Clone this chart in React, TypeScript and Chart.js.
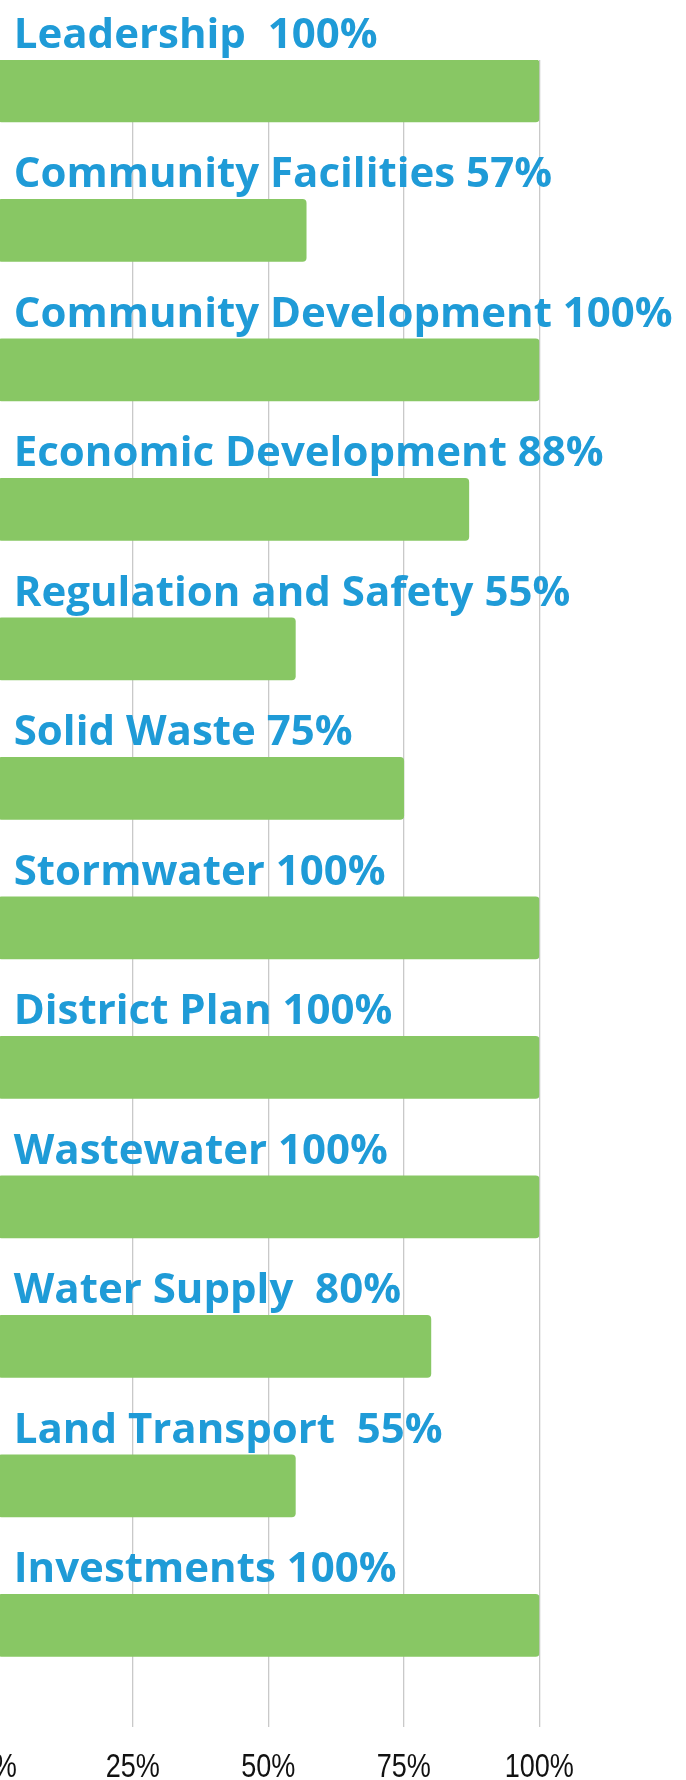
import React, { useEffect, useRef } from "react";
import { Chart, registerables } from "chart.js";

Chart.register(...registerables);

const categories: string[] = [
  "Leadership",
  "Community Facilities",
  "Community Development",
  "Economic Development",
  "Regulation and Safety",
  "Solid Waste",
  "Stormwater",
  "District Plan",
  "Wastewater",
  "Water Supply",
  "Land Transport",
  "Investments",
];

// bar lengths (percent)
const barValues: number[] = [100, 57, 100, 87, 55, 75, 100, 100, 100, 80, 55, 100];

// label texts as printed above each bar
const barLabels: string[] = [
  "Leadership  100%",
  "Community Facilities 57%",
  "Community Development 100%",
  "Economic Development 88%",
  "Regulation and Safety 55%",
  "Solid Waste 75%",
  "Stormwater 100%",
  "District Plan 100%",
  "Wastewater 100%",
  "Water Supply  80%",
  "Land Transport  55%",
  "Investments 100%",
];

const xTicks: number[] = [0, 25, 50, 75, 100];

const CANVAS_W = 729;
const CANVAS_H = 1780;
const SHIFT = 43;
const BAR_THICK = 62;
const Y_MIN = -0.221;
const Y_MAX = 11.729;

export default function App() {
  const ref = useRef<HTMLCanvasElement | null>(null);

  useEffect(() => {
    document.body.style.margin = "0";
    const canvas = ref.current;
    if (!canvas) return;

    const labelPlugin = {
      id: "barLabels",
      afterDatasetsDraw(chart: any) {
        const ctx = chart.ctx;
        const meta = chart.getDatasetMeta(0);
        const xs = chart.scales.x;
        const x0 = xs.getPixelForValue(0);
        ctx.save();
        ctx.font = "bold 42px 'Open Sans'";
        ctx.fillStyle = "#1f9bd7";
        ctx.textAlign = "left";
        ctx.textBaseline = "alphabetic";
        meta.data.forEach((bar: any, i: number) => {
          const y = bar.y - BAR_THICK / 2 - 12.3;
          ctx.fillText(barLabels[i], x0 + 16.5, y);
        });
        ctx.restore();

        // condensed tick labels
        ctx.save();
        ctx.fillStyle = "#111111";
        ctx.font = "33px 'Liberation Sans', Arial, sans-serif";
        ctx.textAlign = "center";
        ctx.textBaseline = "alphabetic";
        xTicks.forEach((t) => {
          const px = xs.getPixelForValue(t);
          ctx.save();
          ctx.translate(px, 1777);
          ctx.scale(0.82, 1);
          ctx.fillText(t + "%", 0, 0);
          ctx.restore();
        });
        ctx.restore();
      },
    };

    const chart = new Chart(canvas, {
      type: "bar",
      data: {
        labels: categories,
        datasets: [
          {
            data: barValues.map((v, i) => ({ x: v, y: i })) as any,
            backgroundColor: "#88c764",
            borderRadius: 4,
            borderSkipped: false,
            barThickness: BAR_THICK,
          },
        ],
      },
      options: {
        indexAxis: "y",
        responsive: false,
        animation: false,
        events: [],
        layout: {
          padding: { left: 40.2, right: 146.7, top: 60, bottom: 0 },
        },
        plugins: {
          legend: { display: false },
          tooltip: { enabled: false },
          title: { display: false },
        },
        scales: {
          y: {
            type: "linear",
            reverse: true,
            min: Y_MIN,
            max: Y_MAX,
            bounds: "data",
            offset: false,
            grace: 0,
            afterDataLimits: (s: any) => {
              s.min = Y_MIN;
              s.max = Y_MAX;
            },
            display: false,
          },
          x: {
            type: "linear",
            position: "bottom",
            min: 0,
            max: 100,
            afterBuildTicks: (scale: any) => {
              scale.ticks = xTicks.map((v) => ({ value: v }));
            },
            afterFit: (scale: any) => {
              scale.height = 53;
            },
            ticks: { display: false },
            grid: {
              color: "#c9c9c9",
              lineWidth: 1.3,
              drawTicks: false,
            },
            border: { display: false },
          },
        },
      },
      plugins: [labelPlugin],
    });

    return () => chart.destroy();
  }, []);

  return (
    <div
      style={{
        position: "relative",
        width: 686,
        height: CANVAS_H,
        overflow: "hidden",
        background: "#ffffff",
      }}
    >
      <canvas
        ref={ref}
        width={CANVAS_W}
        height={CANVAS_H}
        style={{ position: "absolute", left: -SHIFT, top: 0, width: CANVAS_W, height: CANVAS_H }}
      />
    </div>
  );
}
